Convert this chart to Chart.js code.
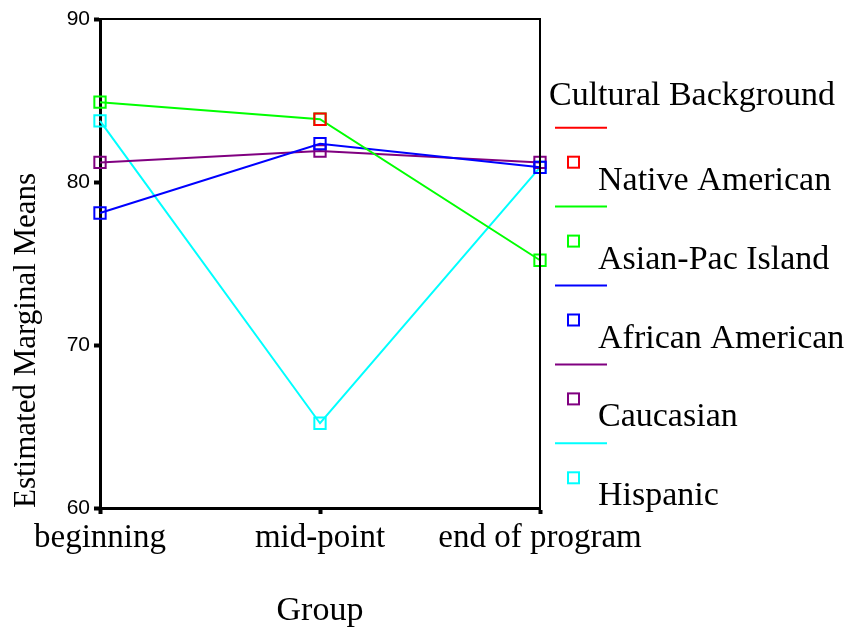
<!DOCTYPE html>
<html><head><meta charset="utf-8">
<script src="https://cdn.jsdelivr.net/npm/chart.js@4.4.1/dist/chart.umd.min.js"></script>
<style>html,body{margin:0;padding:0;background:#fff;}</style>
</head><body>
<canvas id="c" width="847" height="629" style="display:block"></canvas>
<script>
const categories = ['beginning', 'mid-point', 'end of program'];
const seriesNames = ['Native American', 'Asian-Pac Island', 'African American', 'Caucasian', 'Hispanic'];
const nativeAmerican = [null, 83.85, null];
const asianPac = [84.9, 83.85, 75.2];
const africanAmerican = [78.1, 82.35, 80.9];
const caucasian = [81.2, 81.9, 81.2];
const hispanic = [83.75, 65.2, 80.9];
const yTicks = [60, 70, 80, 90];
const seriesColors = ['#ff0000', '#00ff00', '#0000ff', '#800080', '#00ffff'];
const seriesData = [nativeAmerican, asianPac, africanAmerican, caucasian, hispanic];

const SERIF = "'Liberation Serif', 'Times New Roman', serif";
const SANS = "'Liberation Sans', Arial, sans-serif";

const datasets = seriesNames.map((name, i) => ({
  label: name,
  data: seriesData[i],
  borderColor: seriesColors[i],
  backgroundColor: 'rgba(0,0,0,0)',
  borderWidth: 2,
  pointStyle: 'rect',
  pointRadius: 8,
  pointBorderWidth: 2,
  pointBorderColor: seriesColors[i],
  pointBackgroundColor: 'rgba(0,0,0,0)',
  tension: 0,
  spanGaps: false,
  clip: false
}));

const frameAndLegend = {
  id: 'frameAndLegend',
  afterDraw(chart) {
    const ctx = chart.ctx;
    const a = chart.chartArea;
    ctx.save();
    ctx.strokeStyle = '#000';
    ctx.lineWidth = 2;
    ctx.beginPath();
    ctx.moveTo(a.left, a.top);
    ctx.lineTo(a.right, a.top);
    ctx.lineTo(a.right, a.bottom);
    ctx.stroke();
    const x0 = a.right;
    ctx.fillStyle = '#000';
    ctx.font = "34px " + SERIF;
    ctx.textBaseline = 'alphabetic';
    ctx.textAlign = 'left';
    ctx.fillText('Cultural Background', x0 + 9, 105);
    chart.data.datasets.forEach((ds, i) => {
      const ly = 127.7 + 78.9 * i;
      ctx.strokeStyle = ds.borderColor;
      ctx.lineWidth = 2;
      ctx.beginPath();
      ctx.moveTo(x0 + 15, ly);
      ctx.lineTo(x0 + 67, ly);
      ctx.stroke();
      ctx.strokeRect(x0 + 28, ly + 29, 11, 11);
      ctx.fillStyle = '#000';
      ctx.fillText(ds.label, x0 + 58, ly + 62);
    });
    ctx.restore();
  }
};

new Chart(document.getElementById('c'), {
  type: 'line',
  data: { labels: categories, datasets },
  plugins: [frameAndLegend],
  options: {
    responsive: false,
    animation: false,
    devicePixelRatio: 1,
    layout: { padding: { top: 19, right: 307, left: 0, bottom: 0 } },
    plugins: { legend: { display: false }, tooltip: { enabled: false } },
    scales: {
      x: {
        type: 'category',
        offset: false,
        grid: { display: true, drawOnChartArea: false, drawTicks: true, tickLength: 6, tickWidth: 4, tickColor: '#000' },
        border: { display: true, color: '#000', width: 3 },
        ticks: { color: '#000', font: { family: SERIF, size: 33 }, padding: 5, maxRotation: 0, autoSkip: false },
        title: { display: true, text: 'Group', color: '#000', font: { family: SERIF, size: 34, lineHeight: 1.0 }, padding: { top: 4, bottom: 1 } },
        afterFit(s) { s.height = 121; }
      },
      y: {
        type: 'linear',
        min: 60, max: 90,
        grid: { display: true, drawOnChartArea: false, drawTicks: true, tickLength: 6, tickWidth: 4, tickColor: '#000' },
        border: { display: true, color: '#000', width: 3 },
        ticks: { color: '#000', font: { family: SANS, size: 21 }, padding: 4 },
        afterBuildTicks(s) { s.ticks = yTicks.map(v => ({ value: v })); },
        title: { display: true, text: 'Estimated Marginal Means', align: 'start', color: '#000', font: { family: SERIF, size: 31 }, padding: { top: 8, bottom: 4 } },
        afterFit(s) { s.width = 100; }
      }
    }
  }
});
</script>
</body></html>
